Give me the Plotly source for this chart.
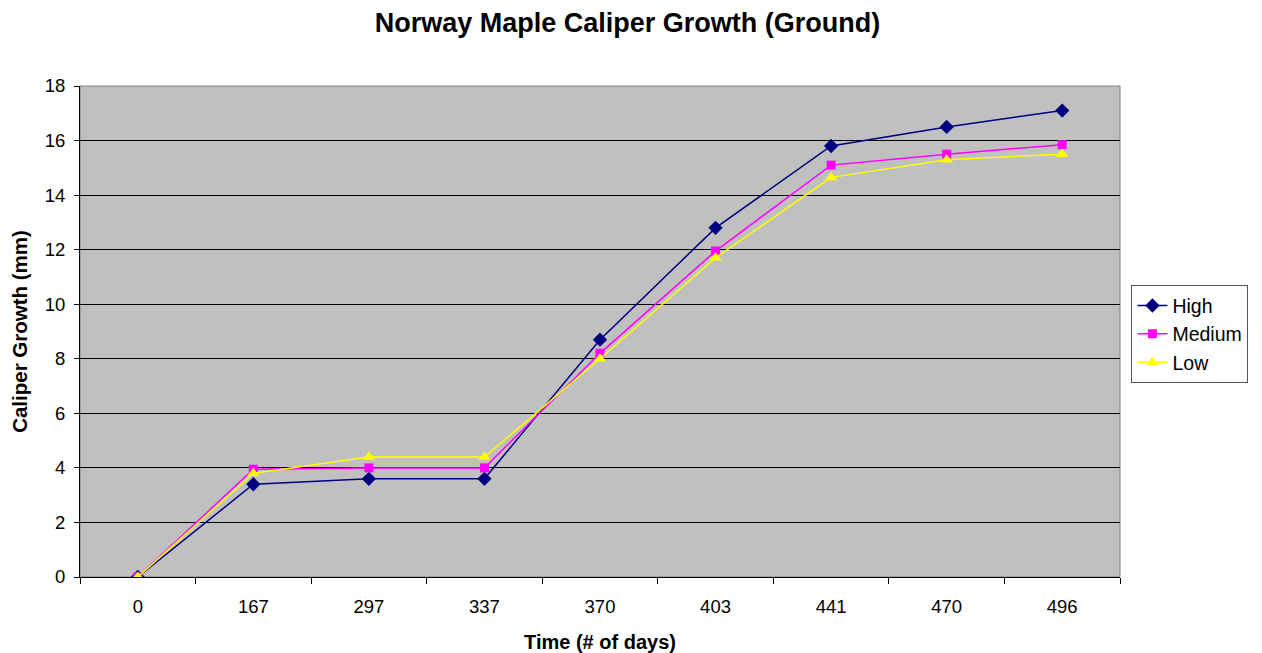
import plotly.graph_objects as go

days = ["0", "167", "297", "337", "370", "403", "441", "470", "496"]
high = [0, 3.4, 3.6, 3.6, 8.7, 12.8, 15.8, 16.5, 17.1]
medium = [0, 3.95, 4.0, 4.0, 8.2, 11.95, 15.1, 15.5, 15.85]
low = [0, 3.8, 4.4, 4.4, 8.0, 11.7, 14.65, 15.3, 15.5]

FONT = "Liberation Sans, Arial, sans-serif"

fig = go.Figure()
fig.add_trace(go.Scatter(x=days, y=high, name="High", mode="lines+markers",
                         line=dict(color="#000080", width=1.5),
                         marker=dict(symbol="diamond", size=11, color="#000080")))
fig.add_trace(go.Scatter(x=days, y=medium, name="Medium", mode="lines+markers",
                         line=dict(color="#ff00ff", width=1.5),
                         marker=dict(symbol="square", size=9, color="#ff00ff")))
fig.add_trace(go.Scatter(x=days, y=low, name="Low", mode="lines+markers",
                         line=dict(color="#ffff00", width=1.5),
                         marker=dict(symbol="triangle-up", size=11, color="#ffff00")))

fig.update_layout(
    width=1254, height=645,
    margin=dict(l=72, r=142, t=78, b=76, pad=0),
    paper_bgcolor="white",
    plot_bgcolor="#c0c0c0",
    font=dict(family=FONT, size=18.5, color="black"),
    title=dict(text="<b>Norway Maple Caliper Growth (Ground)</b>",
               x=0.494, xref="container", xanchor="center",
               y=0.977, yref="container", yanchor="middle",
               font=dict(size=27, family=FONT)),
    showlegend=True,
    legend=dict(x=1.011, y=0.594, xanchor="left", yanchor="top",
                bgcolor="white", bordercolor="#555555", borderwidth=1,
                font=dict(size=19.5, family=FONT), tracegroupgap=0,
                itemwidth=30),
    xaxis=dict(type="category", range=[-0.5, 8.5], automargin=False,
               title=dict(text="<b>Time (# of days)</b>", font=dict(size=20), standoff=20),
               tickson="boundaries", ticks="outside", ticklen=6, tickcolor="black",
               ticklabelstandoff=13,
               showline=True, linecolor="black", linewidth=1,
               showgrid=False, zeroline=False, mirror=False),
    yaxis=dict(range=[0, 18], dtick=2, automargin=False,
               title=dict(text="<b>Caliper Growth (mm)</b>", font=dict(size=20.5), standoff=14),
               ticks="outside", ticklen=5, tickcolor="black",
               ticklabelstandoff=5,
               showline=True, linecolor="black", linewidth=1,
               showgrid=True, gridcolor="black", gridwidth=1, zeroline=False),
)
fig.add_shape(type="rect", xref="paper", yref="paper", x0=0, y0=0, x1=1, y1=1,
              line=dict(color="#808080", width=1), layer="below")

fig.write_html("out.html")
